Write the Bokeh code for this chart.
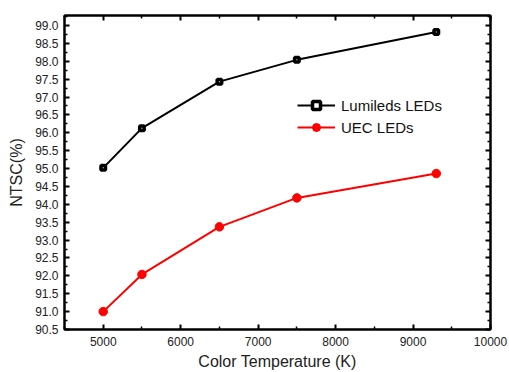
from bokeh.plotting import figure
from bokeh.models import (LinearAxis, FixedTicker, PrintfTickFormatter, Legend, LegendItem,
                          Range1d, CustomJSTickFormatter)
from bokeh.embed import file_html
from bokeh.resources import INLINE

temps = [5000, 5500, 6500, 7500, 9300]
lumileds = [95.02, 96.13, 97.43, 98.04, 98.82]
uec = [91.0, 92.04, 93.37, 94.18, 94.86]

y_ticks = [90.5 + 0.5 * i for i in range(18)]
y_minor = [90.25 + 0.5 * i for i in range(19)]
x_ticks = [5000, 6000, 7000, 8000, 9000, 10000]
x_minor = [4500, 5500, 6500, 7500, 8500, 9500]

FONT = "Liberation Sans"

p = figure(width=509, height=372, output_backend="svg", toolbar_location=None,
           x_range=Range1d(4500, 10000), y_range=Range1d(90.5, 99.28),
           min_border_left=64, min_border_right=19, min_border_top=15, min_border_bottom=43,
           x_axis_label="Color Temperature (K)", y_axis_label="NTSC(%)")
p.grid.visible = False
p.outline_line_color = "black"
p.outline_line_width = 2
p.background_fill_color = "white"
p.border_fill_color = "white"

def style(ax, ticks, minor, show_labels):
    ax.ticker = FixedTicker(ticks=ticks, minor_ticks=minor)
    ax.major_tick_in = 5
    ax.major_tick_out = 0
    ax.minor_tick_in = 3
    ax.minor_tick_out = 0
    ax.major_tick_line_width = 2
    ax.minor_tick_line_width = 1.5
    ax.axis_line_width = 2
    ax.major_label_text_font = FONT
    ax.major_label_text_font_size = "12px"
    ax.major_label_text_color = "#222222"
    ax.axis_label_text_font = FONT
    ax.axis_label_text_font_size = "16px"
    ax.axis_label_text_font_style = "normal"
    ax.axis_label_text_color = "#222222"
    if not show_labels:
        ax.major_label_text_font_size = "0px"
        ax.major_label_standoff = 0
        ax.formatter = CustomJSTickFormatter(code="return ''")

style(p.xaxis[0], x_ticks, x_minor, True)
style(p.yaxis[0], y_ticks, y_minor, True)
p.yaxis[0].formatter = PrintfTickFormatter(format="%.1f")
p.xaxis[0].major_label_standoff = 7
p.xaxis[0].axis_label_standoff = 4
p.yaxis[0].major_label_standoff = 6
p.yaxis[0].axis_label_standoff = 7

top = LinearAxis()
style(top, x_ticks, x_minor, False)
p.add_layout(top, "above")
right = LinearAxis()
style(right, y_ticks, y_minor, False)
p.add_layout(right, "right")

l1 = p.line(temps, lumileds, line_color="black", line_width=2)
m1 = p.scatter(temps, lumileds, marker="square", size=4.5, fill_color="white",
               line_color="black", line_width=3.5)
l2 = p.line(temps, uec, line_color="red", line_width=2)
m2 = p.scatter(temps, uec, marker="circle", size=8.5, fill_color="red", line_color="red")

legend = Legend(items=[LegendItem(label="Lumileds LEDs", renderers=[l1, m1]),
                       LegendItem(label="UEC LEDs", renderers=[l2, m2])],
                location=(233, 192), border_line_color=None, background_fill_alpha=0,
                padding=0, margin=0, spacing=2, glyph_width=38, glyph_height=20,
                label_height=20, label_standoff=6,
                label_text_font=FONT, label_text_font_size="15px", label_text_color="#111111")
p.add_layout(legend)

open("out.html", "w").write(file_html(p, INLINE))
